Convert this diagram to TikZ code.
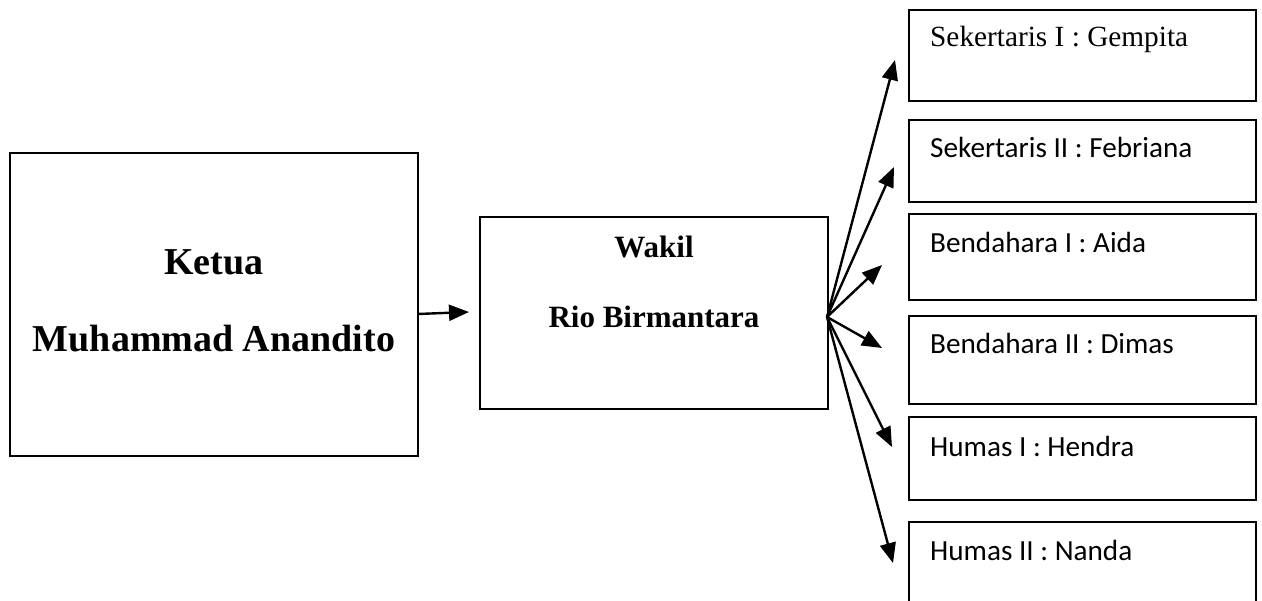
\documentclass[tikz,border=0pt]{standalone}
\usepackage{fontspec}
\setmainfont{Liberation Serif}
\newfontfamily\calibri{Carlito}
\usetikzlibrary{arrows.meta}
\tikzset{
  box/.style={draw, line width=1.6pt, inner sep=0pt, outer sep=0pt, anchor=north west},
  boldtxt/.style={font=\bfseries\fontsize{38}{44}\selectfont, anchor=base, inner sep=0pt},
  midtxt/.style={font=\bfseries\fontsize{31}{36}\selectfont, anchor=base, inner sep=0pt},
  timestxt/.style={font=\fontsize{29.3}{34}\selectfont, anchor=base west, inner sep=0pt},
  caltxt/.style={font=\calibri\fontsize{29.2}{34}\selectfont, anchor=base west, inner sep=0pt},
  conn/.style={line width=2.4pt, -{Triangle[length=20pt,width=16pt]}}
}
\begin{document}
\begin{tikzpicture}[x=1pt,y=-1pt]
\clip (0,0) rectangle (1262,601);
\fill[white] (0,0) rectangle (1262,601);
% main boxes
\node[box, minimum width=408pt, minimum height=303pt] (ketua) at (10,153) {};
\node[box, minimum width=348pt, minimum height=192pt] (wakil) at (480,217) {};
\node[boldtxt] (kt1) at (214,275) {Ketua};
\node[boldtxt] (kt2) at (214,352) {Muhammad Anandito};
\node[midtxt] (wk1) at (654,258) {Wakil};
\node[midtxt] (wk2) at (654,328) {Rio Birmantara};
% right boxes
\node[box, minimum width=347pt, minimum height=91pt] (b1) at (909,10) {};
\node[box, minimum width=347pt, minimum height=82pt] (b2) at (909,120) {};
\node[box, minimum width=347pt, minimum height=86pt] (b3) at (909,214) {};
\node[box, minimum width=347pt, minimum height=88pt] (b4) at (909,316) {};
\node[box, minimum width=347pt, minimum height=83pt] (b5) at (909,417) {};
\node[box, minimum width=347pt, minimum height=90pt] (b6) at (909,522) {};
\node[timestxt] (t1) at (930,47) {Sekertaris I : Gempita};
\node[caltxt] (t2) at (930,158) {Sekertaris II : Febriana};
\node[caltxt] (t3) at (930,253) {Bendahara I : Aida};
\node[caltxt] (t4) at (930,354) {Bendahara II : Dimas};
\node[caltxt] (t5) at (930,457) {Humas I : Hendra};
\node[caltxt] (t6) at (930,560) {Humas II : Nanda};
% connectors
\coordinate (ks) at (418,314);
\coordinate (kt) at (469,312);
\draw[conn] (ks) -- (kt);
\coordinate (o) at (827,317);
\coordinate (a1) at (895,60);
\coordinate (a2) at (894,167);
\coordinate (a3) at (882,265);
\coordinate (a4) at (882,348);
\coordinate (a5) at (892,447);
\coordinate (a6) at (893,563);
\foreach \t in {a1,a2,a3,a4,a5,a6} \draw[conn] (o) -- (\t);
\end{tikzpicture}
\end{document}
